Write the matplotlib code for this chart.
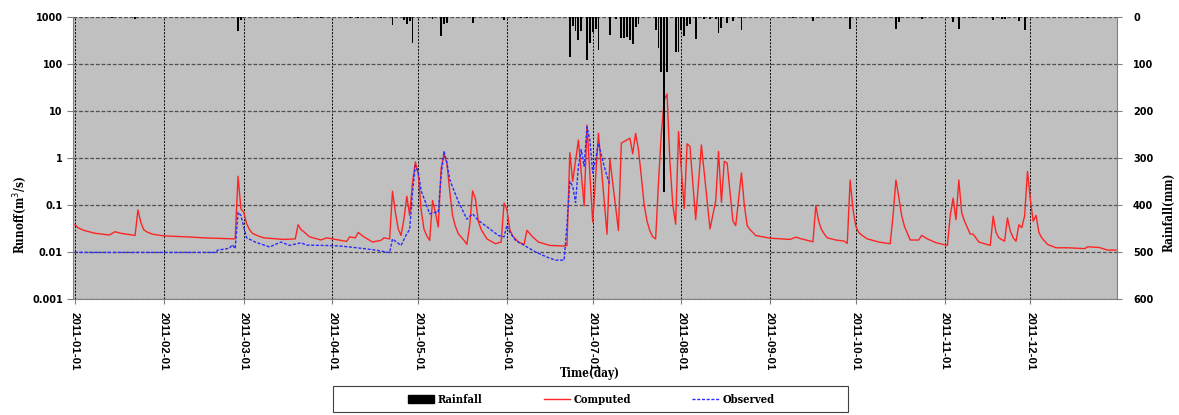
import numpy as np
import pandas as pd
import matplotlib
matplotlib.use('Agg')
import matplotlib.pyplot as plt
import matplotlib.dates as mdates
from matplotlib.patches import Rectangle, Patch
from matplotlib.lines import Line2D
from matplotlib.font_manager import FontProperties
from matplotlib.ticker import FixedLocator, FixedFormatter, NullLocator

# ---------------- data ----------------
start_date = "2011-01-01"

computed_day = [0, 1, 3, 7, 12, 14, 16, 21, 22, 23, 24, 25, 27, 31, 39, 45, 56, 57, 58, 59,
                60, 61, 62, 64, 66, 73, 77, 78, 79, 80, 82, 86, 88, 90, 95, 96, 98, 99, 101, 104,
                107, 108, 110, 111, 112, 113, 114, 115, 116, 117, 118, 119, 120, 121, 122, 123, 124, 125, 126, 127,
                128, 129, 130, 131, 132, 133, 134, 136, 137, 138, 139, 140, 141, 142, 144, 147, 149, 150, 151, 152,
                153, 155, 157, 158, 160, 162, 166, 171, 172, 173, 174, 176, 178, 179, 181, 183, 186, 187, 190, 191,
                194, 195, 196, 197, 198, 199, 200, 201, 202, 203, 204, 205, 206, 207, 208, 209, 210, 211, 213, 214,
                215, 217, 219, 222, 224, 225, 226, 227, 228, 230, 231, 233, 234, 235, 236, 238, 243, 250, 252, 254,
                258, 259, 260, 261, 262, 263, 266, 269, 270, 271, 272, 273, 274, 275, 277, 281, 285, 286, 287, 288,
                289, 290, 291, 292, 295, 296, 298, 301, 305, 306, 307, 308, 309, 310, 311, 312, 313, 314, 316, 320,
                321, 322, 323, 325, 326, 327, 328, 329, 330, 331, 332, 333, 334, 335, 336, 337, 338, 340, 343, 347,
                353, 354, 358, 361, 364]
computed_q = [0.038, 0.033, 0.029, 0.025, 0.023, 0.027, 0.025, 0.0225, 0.079, 0.043, 0.03, 0.027, 0.024, 0.022, 0.021, 0.020, 0.019, 0.41, 0.083, 0.07,
              0.04, 0.03, 0.025, 0.022, 0.020, 0.0185, 0.019, 0.038, 0.03, 0.027, 0.021, 0.018, 0.020, 0.019, 0.0168, 0.021, 0.020, 0.026, 0.021, 0.0163,
              0.0177, 0.020, 0.019, 0.196, 0.07, 0.031, 0.0225, 0.05, 0.154, 0.06, 0.30, 0.83, 0.45, 0.08, 0.031, 0.022, 0.0177, 0.124, 0.07, 0.034,
              0.6, 1.2, 0.8, 0.2, 0.06, 0.035, 0.0245, 0.0177, 0.0145, 0.037, 0.2, 0.135, 0.045, 0.03, 0.019, 0.015, 0.0163, 0.11, 0.08, 0.03,
              0.022, 0.0163, 0.0145, 0.029, 0.021, 0.0163, 0.0138, 0.0134, 0.0138, 1.3, 0.32, 2.4, 0.096, 5.0, 0.043, 3.36, 0.024, 0.95, 0.0286, 2.07,
              2.64, 1.23, 3.36, 1.5, 0.4, 0.1, 0.045, 0.028, 0.021, 0.019, 0.3, 3.4, 17.0, 23.0, 0.8, 0.1, 0.039, 3.64, 0.084, 2.0,
              1.76, 0.049, 1.9, 0.031, 0.122, 1.38, 0.113, 0.85, 0.78, 0.046, 0.0365, 0.48, 0.1, 0.0365, 0.03, 0.0224, 0.0197, 0.0185, 0.0207, 0.019,
              0.0165, 0.098, 0.045, 0.03, 0.024, 0.020, 0.018, 0.017, 0.0152, 0.34, 0.08, 0.035, 0.026, 0.023, 0.019, 0.0163, 0.015, 0.058, 0.34, 0.15,
              0.06, 0.035, 0.025, 0.018, 0.018, 0.0225, 0.019, 0.0158, 0.0138, 0.06, 0.14, 0.049, 0.34, 0.068, 0.045, 0.033, 0.024, 0.024, 0.0163, 0.0138,
              0.058, 0.026, 0.02, 0.017, 0.053, 0.028, 0.020, 0.017, 0.038, 0.033, 0.058, 0.52, 0.13, 0.045, 0.06, 0.026, 0.02, 0.0145, 0.0123, 0.0123,
              0.0118, 0.0129, 0.0125, 0.011, 0.011]

observed_day = [0, 49, 50, 54, 55, 56, 57, 58, 59, 60, 63, 68, 72, 75, 79, 81, 87, 92, 96, 100,
                105, 110, 111, 112, 114, 116, 117, 118, 119, 120, 121, 122, 124, 126, 127, 128, 129, 130, 131, 132,
                134, 137, 139, 141, 145, 148, 150, 151, 152, 154, 158, 161, 165, 168, 171, 172, 173, 174, 175, 176,
                177, 178, 179, 180, 181, 182, 183, 185, 186, 187]
observed_q = [0.0098, 0.0098, 0.011, 0.012, 0.0143, 0.0118, 0.07, 0.06, 0.034, 0.02, 0.0163, 0.0128, 0.0163, 0.0138, 0.0157, 0.014, 0.0138, 0.0135, 0.0128, 0.012,
              0.011, 0.0097, 0.019, 0.017, 0.0138, 0.0245, 0.03, 0.186, 0.69, 0.5, 0.2, 0.14, 0.065, 0.07, 0.07, 0.42, 1.4, 0.8, 0.35, 0.24,
              0.12, 0.05, 0.065, 0.047, 0.031, 0.0225, 0.021, 0.037, 0.0265, 0.0177, 0.0128, 0.01, 0.0078, 0.0067, 0.0067, 0.037, 0.32, 0.25, 0.113, 0.67,
              1.5, 0.67, 4.6, 2.4, 0.48, 0.92, 2.07, 0.67, 0.41, 0.27]

rain_day = [13, 21, 57, 58, 78, 86, 96, 99, 107, 111, 115, 116, 117, 118, 125, 128, 129, 130, 139, 150,
            154, 156, 158, 173, 174, 175, 176, 177, 179, 180, 181, 182, 183, 187, 189, 191, 192, 193, 194, 195,
            196, 197, 203, 204, 205, 206, 207, 210, 211, 212, 213, 214, 215, 217, 220, 222, 224, 225, 226, 228,
            230, 233, 251, 258, 271, 287, 288, 296, 307, 309, 314, 321, 324, 325, 330, 332, 354]
rain_mm = [3, 5, 30, 6, 3, 3, 3, 3, 3, 17, 6, 15, 8, 55, 5, 40, 15, 12, 12, 6,
           3, 3, 3, 85, 20, 30, 50, 30, 92, 55, 32, 25, 70, 38, 4, 45, 45, 42, 48, 58,
           22, 15, 28, 66, 118, 372, 117, 74, 74, 28, 40, 20, 15, 46, 4, 5, 5, 34, 23, 12,
           8, 27, 3, 9, 25, 25, 10, 4, 11, 25, 3, 6, 4, 4, 8, 28, 3]

runoff_ticks = [0.001, 0.01, 0.1, 1, 10, 100, 1000]
runoff_labels = ["0.001", "0.01", "0.1", "1", "10", "100", "1000"]
rain_ticks = [0, 100, 200, 300, 400, 500, 600]
rain_labels = ["0", "100", "200", "300", "400", "500", "600"]

# ---------------- figure ----------------
W, H = 1179, 415
start = pd.Timestamp(start_date)


def to_dates(days):
    return start + pd.to_timedelta(np.asarray(days, float), unit='D')


fig = plt.figure(figsize=(W / 100, H / 100), dpi=100)
fig.patch.set_facecolor('white')
L, R, T, B = 73, 1117, 17, 299
ax = fig.add_axes([L / W, 1 - B / H, (R - L) / W, (B - T) / H])
ax.set_facecolor('#c0c0c0')

ax.set_yscale('log')
ax.set_ylim(0.001, 1000)
ax.plot(to_dates(computed_day), computed_q, color='#ff2424', lw=1.0, zorder=3)
ax.plot(to_dates(observed_day), observed_q, color='#2b2bff', lw=1.0,
        ls=(0, (2.2, 1.2)), zorder=3)

ax2 = ax.twinx()
ax2.bar(to_dates(rain_day), rain_mm, width=0.65, color='black', zorder=2)
ax2.set_ylim(600, 0)

x0 = start - pd.Timedelta(days=0.7)
x1 = start + pd.Timedelta(days=364.3)
ax.set_xlim(x0, x1)

# ticks
ax.yaxis.set_major_locator(FixedLocator(runoff_ticks))
ax.yaxis.set_major_formatter(FixedFormatter(runoff_labels))
ax.yaxis.set_minor_locator(NullLocator())
ax2.yaxis.set_major_locator(FixedLocator(rain_ticks))
ax2.yaxis.set_major_formatter(FixedFormatter(rain_labels))
ax2.yaxis.set_minor_locator(NullLocator())

ax.xaxis.set_major_locator(mdates.MonthLocator())
ax.xaxis.set_major_formatter(mdates.DateFormatter('%Y-%m-%d'))

tick_fp = FontProperties(family='DejaVu Sans', weight='bold', size=7)
date_fp = FontProperties(family='Liberation Sans', weight='bold', size=8.2)

ax.tick_params(axis='y', direction='out', length=4.3, width=0.8, color='#808080', pad=3)
ax2.tick_params(axis='y', direction='out', length=3.6, width=0.8, color='#808080', pad=8)
ax.tick_params(axis='x', direction='out', length=3.5, width=0.8, color='#808080', pad=6)
for lab in ax.get_yticklabels():
    lab.set_fontproperties(tick_fp)
for lab in ax2.get_yticklabels():
    lab.set_fontproperties(tick_fp)
for lab in ax.get_xticklabels():
    lab.set_fontproperties(date_fp)
    lab.set_rotation(270)
    lab.set_ha('center')
    lab.set_va('top')

# grid
ax.yaxis.grid(True, color='#505050', ls=(0, (3, 1.5)), lw=0.9)
ax.xaxis.grid(True, color='black', ls=(0, (2, 1.5)), lw=0.7)
ax.set_axisbelow(True)

for s in ['top', 'right']:
    ax.spines[s].set_visible(False)
for s in ['left', 'bottom']:
    ax.spines[s].set_color('#808080')
for s in ['top', 'left', 'bottom']:
    ax2.spines[s].set_visible(False)
ax2.spines['right'].set_color('#808080')

# axis titles
label_font = dict(family='DejaVu Serif', weight='bold', stretch='condensed')
fig.text(20 / W, 1 - 215 / H, 'Runoff(m$^3$/s)', rotation=90, ha='center', va='center',
         fontsize=8.5, **label_font)
fig.text(1169 / W, 1 - 212 / H, 'Rainfall(mm)', rotation=90, ha='center', va='center',
         fontsize=8.5, **label_font)
fig.text(590 / W, 1 - 374 / H, 'Time(day)', ha='center', va='center',
         fontsize=8.5, **label_font)

# legend
handles = [Patch(facecolor='black', edgecolor='black'),
           Line2D([], [], color='#ff2424', lw=1.0),
           Line2D([], [], color='#2b2bff', lw=1.0, ls=(0, (2.2, 1.2)))]
labels = ['Rainfall', 'Computed', 'Observed']
leg = fig.legend(handles, labels, loc='center', bbox_to_anchor=(591 / W, 1 - 399 / H),
                 ncol=3, frameon=False, handlelength=2.4, columnspacing=5.5,
                 handletextpad=0.3, prop=dict(family='DejaVu Serif', weight='bold',
                                              stretch='condensed', size=8))
fig.add_artist(Rectangle((333 / W, 1 - 412 / H), (848 - 333) / W, 26 / H,
                         transform=fig.transFigure, fill=False, edgecolor='#404040', lw=0.8))

fig.savefig('out.png', dpi=100)
